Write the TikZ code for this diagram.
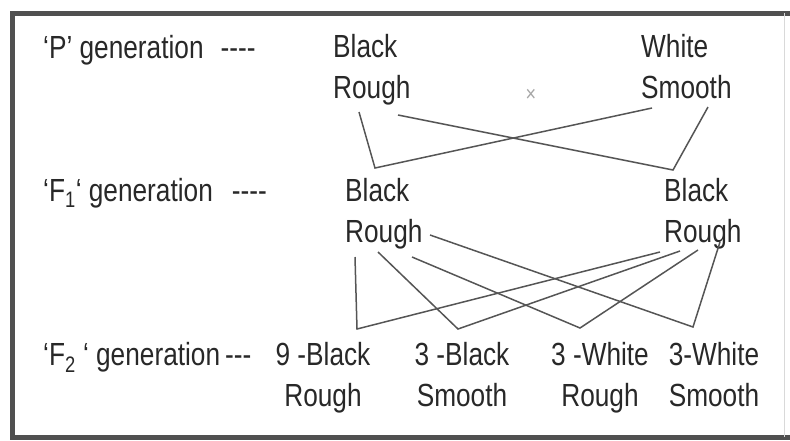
\documentclass[tikz,border=0pt]{standalone}
\usepackage{fontspec}
\setmainfont{Liberation Sans}[FakeStretch=0.82]
\definecolor{frgray}{RGB}{80,80,80}
\definecolor{lngray}{RGB}{85,85,85}
\definecolor{txgray}{RGB}{40,40,40}

\begin{document}
\begin{tikzpicture}[x=1pt, y=-1pt,
  gen/.style={anchor=base west, inner sep=0pt, font=\fontsize{32}{41}\selectfont, text=txgray},
  pheno/.style={anchor=north west, inner sep=0pt, align=left, font=\fontsize{32}{41}\selectfont, text=txgray},
  ratio/.style={anchor=north, inner sep=0pt, align=center, font=\fontsize{32}{41}\selectfont, text=txgray},
  link/.style={draw=lngray, line width=1.5pt},
  frame/.style={draw=frgray, line width=5pt}
]
\useasboundingbox (0,0) rectangle (790,440);
% Frame
\draw[frame] (790,13) -- (12,13) -- (12,437) -- (790,437);
\draw[draw=black!15, line width=1pt] (784,13) -- (784,437);
% Generation labels
\node[gen] (genP) at (43,58) {‘P’ generation\hspace{17pt}-{}-{}-{}-};
\node[gen] (genF1) at (43,201) {‘F\textsubscript{1}‘ generation\hspace{19pt}-{}-{}-{}-};
\node[gen] (genF2) at (43,365) {‘F\textsubscript{2} ‘ generation\hspace{5pt}-{}-{}-};
% P generation
\node[pheno] (pBR) at (333,34.1) {Black\\Rough};
\node[pheno] (pWS) at (641,34.1) {White\\Smooth};
\node[font=\fontsize{22}{22}\selectfont, text=black!35, inner sep=0pt] (cross) at (531,95) {×};
% F1 generation
\node[pheno] (fL) at (345,178.1) {Black\\Rough};
\node[pheno] (fR) at (664,178.1) {Black\\Rough};
% F2 generation
\node[ratio] (sBR) at (323,342.1) {9 -Black\\Rough};
\node[ratio] (sBS) at (462,342.1) {3 -Black\\Smooth};
\node[ratio] (sWR) at (600,342.1) {3 -White\\Rough};
\node[ratio] (sWS) at (714,342.1) {3-White\\Smooth};
% Meeting points
\coordinate (pL1) at (359,112);
\coordinate (pL2) at (398,115);
\coordinate (pR1) at (652,108);
\coordinate (pR2) at (708,107);
\coordinate (mL) at (375,168);
\coordinate (mR) at (673,170);
\coordinate (fL1) at (355,257);
\coordinate (fL2) at (378,252);
\coordinate (fL3) at (412,257);
\coordinate (fL4) at (430,235);
\coordinate (fR1) at (660,252);
\coordinate (fR2) at (680,251);
\coordinate (fR3) at (698,250);
\coordinate (fR4) at (720,242);
\coordinate (m1) at (357,329);
\coordinate (m2) at (458,329);
\coordinate (m3) at (580,328);
\coordinate (m4) at (693,327);
% Crosses
\draw[link] (pL1) -- (mL) -- (pR1);
\draw[link] (pL2) -- (mR) -- (pR2);
\draw[link] (fL1) -- (m1) -- (fR1);
\draw[link] (fL2) -- (m2) -- (fR2);
\draw[link] (fL3) -- (m3) -- (fR3);
\draw[link] (fL4) -- (m4) -- (fR4);
\end{tikzpicture}
\end{document}
